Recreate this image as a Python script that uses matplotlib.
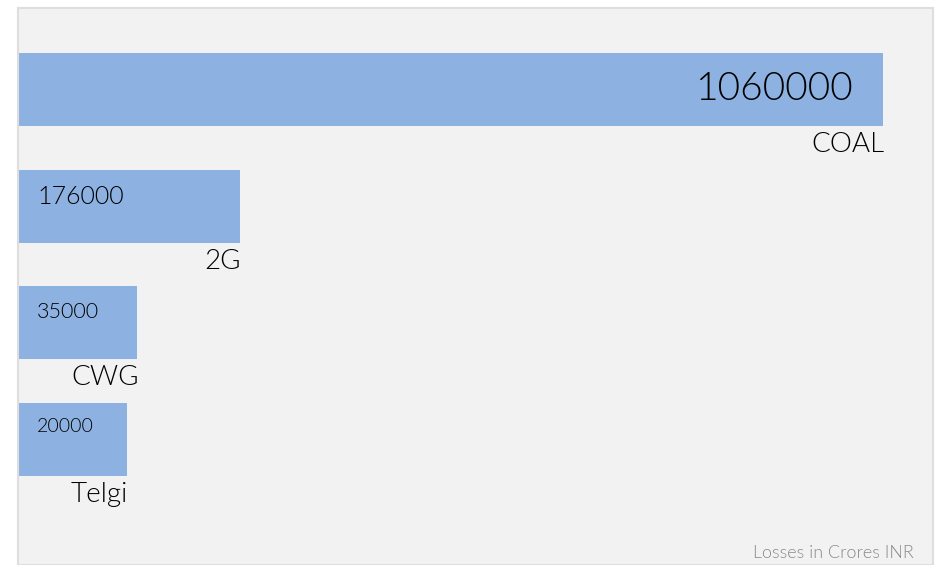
import numpy as np
import matplotlib.pyplot as plt

# data
scams = ["COAL", "2G", "CWG", "Telgi"]
losses = [1060000, 176000, 35000, 20000]
note = "Losses in Crores INR"

# styling, kept apart from the data
value_sizes = [28, 18, 15.5, 14]
bar_color = "#8db2e2"
bg_color = "#f2f2f2"
x0 = -129200          # scale starts left of zero, like the original
x1 = 1128700
w = 300               # light weight

plt.rcParams['font.family'] = ['Lato', 'DejaVu Sans']

fig = plt.figure(figsize=(9.35, 5.65), dpi=100)
ax = fig.add_axes([18 / 935, 0, (933 - 18) / 935, (565 - 8) / 565])
ax.set_facecolor(bg_color)

y = np.arange(len(scams))
vals = np.array(losses)
ax.barh(y, vals - x0, left=x0, height=0.625, color=bar_color, zorder=2)

ax.set_xlim(x0, x1)
ax.set_ylim(4.077, -0.698)

for i, (name, v, fs) in enumerate(zip(scams, losses, value_sizes)):
    # category label under the bar end
    ax.annotate(name, xy=(v, i + 0.3125), xytext=(1, -6),
                textcoords='offset pixels', ha='right', va='top',
                fontsize=20, fontweight=w, color='black')
    # value label inside the bar
    base = 12 + 1.25 * fs
    if v - x0 > 0.5 * (x1 - x0):
        ax.annotate(str(v), xy=(v, i - 0.3125), xytext=(-29, -base),
                    textcoords='offset pixels', ha='right', va='baseline',
                    fontsize=fs, fontweight=w, color='black')
    else:
        ax.annotate(str(v), xy=(x0, i - 0.3125), xytext=(19, -base),
                    textcoords='offset pixels', ha='left', va='baseline',
                    fontsize=fs, fontweight=w, color='black')

ax.text(0.979, 0.012, note, transform=ax.transAxes, ha='right', va='baseline',
        fontsize=13, fontweight=w, color='#8a8a8a')

ax.set_xticks([])
ax.set_yticks([])
for side in ['top', 'left', 'right', 'bottom']:
    ax.spines[side].set_color('#dedede')
    ax.spines[side].set_linewidth(1.5)

fig.savefig("out.png", dpi=100, facecolor='white')
